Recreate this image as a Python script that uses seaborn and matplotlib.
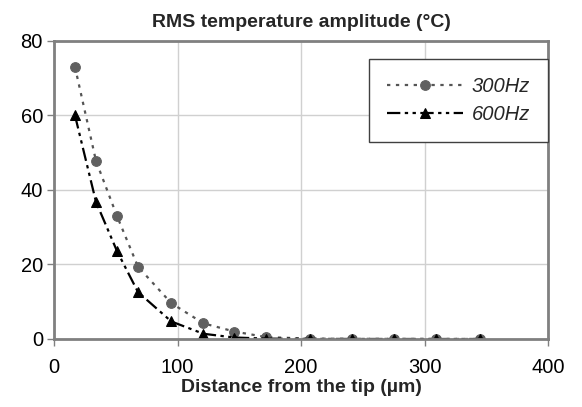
import matplotlib
matplotlib.use("Agg")
import matplotlib.pyplot as plt
import seaborn as sns
import pandas as pd

distance = [17, 34, 51, 68, 95, 121, 146, 172, 207, 241, 275, 309, 345]
amp_300 = [73.0, 47.8, 33.0, 19.4, 9.6, 4.2, 2.0, 0.5, 0.1, 0.05, 0.02, 0.01, 0.0]
amp_600 = [60.0, 36.8, 23.6, 12.6, 4.7, 1.4, 0.4, 0.1, 0.02, 0.01, 0.0, 0.0, 0.0]
series = ["300Hz", "600Hz"]

df = pd.concat([
    pd.DataFrame({"x": distance, "y": amp_300, "s": series[0]}),
    pd.DataFrame({"x": distance, "y": amp_600, "s": series[1]}),
])

sns.set_theme(style="white")
plt.rcParams['font.family'] = ['Liberation Sans', 'DejaVu Sans']

fig = plt.figure(figsize=(5.82, 4.07), dpi=100)
ax = fig.add_axes([0.0928, 0.1671, 0.8488, 0.7322])

sns.lineplot(data=df[df.s == series[0]], x="x", y="y", ax=ax, color="#555555",
             linestyle=(0, (1.5, 2.5)), linewidth=1.6, marker="o", markersize=7,
             markerfacecolor="#606060", markeredgecolor="#606060", label=series[0])
sns.lineplot(data=df[df.s == series[1]], x="x", y="y", ax=ax, color="black",
             linestyle=(0, (6, 2, 1.5, 2, 1.5, 2)), linewidth=1.6, marker="^", markersize=7,
             markerfacecolor="black", markeredgecolor="black", label=series[1])

ax.set_xlim(0, 400)
ax.set_ylim(0, 80)
ax.set_xticks([0, 100, 200, 300, 400])
ax.set_yticks([0, 20, 40, 60, 80])
ax.grid(True, color="#d0d0d0", linewidth=1)
for sp in ax.spines.values():
    sp.set_color("#808080")
    sp.set_linewidth(2)
ax.tick_params(axis="both", which="both", direction="out", length=5, width=1,
               colors="#808080", labelcolor="black", labelsize=14.5,
               bottom=True, left=True)
ax.tick_params(axis="x", pad=9)
ax.tick_params(axis="y", pad=3)

ax.set_title("RMS temperature amplitude (°C)", fontsize=14, fontweight="bold", pad=10)
ax.set_xlabel("Distance from the tip (µm)", fontsize=14, fontweight="bold", labelpad=1)
ax.set_ylabel("")

leg = ax.legend(loc="upper right", bbox_to_anchor=(1.0, 0.94), borderaxespad=0,
                frameon=True, fancybox=False, edgecolor="#404040", framealpha=1,
                prop={"style": "italic", "size": 14.5}, handlelength=3.8,
                borderpad=0.9, labelspacing=0.45, handletextpad=0.4)
leg.get_frame().set_linewidth(1)

fig.savefig("out.png", dpi=100)
